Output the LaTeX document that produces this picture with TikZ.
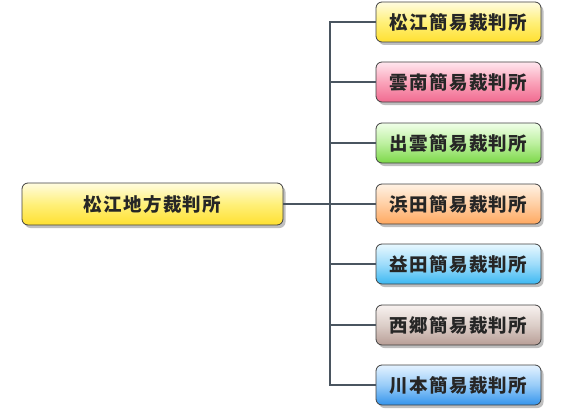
\documentclass[tikz,border=0pt]{standalone}
\usepackage{fontspec}
\newfontfamily\jp{Noto Sans CJK JP}[LetterSpace=7]
\usetikzlibrary{shadows}
\definecolor{ylwT}{HTML}{FFFCE0}\definecolor{ylwM}{HTML}{FFF07A}\definecolor{ylwB}{HTML}{FFE030}
\definecolor{pnkT}{HTML}{FFE6EE}\definecolor{pnkM}{HTML}{FAA4BA}\definecolor{pnkB}{HTML}{F06A90}
\definecolor{grnT}{HTML}{F0FFE8}\definecolor{grnM}{HTML}{BDF0A0}\definecolor{grnB}{HTML}{7CD848}
\definecolor{orgT}{HTML}{FFF2E4}\definecolor{orgM}{HTML}{FFCFA4}\definecolor{orgB}{HTML}{FFA860}
\definecolor{cynT}{HTML}{E8F8FF}\definecolor{cynM}{HTML}{9EDCFA}\definecolor{cynB}{HTML}{3CB8F2}
\definecolor{tauT}{HTML}{F8F2F0}\definecolor{tauM}{HTML}{DCCEC8}\definecolor{tauB}{HTML}{B89E96}
\definecolor{bluT}{HTML}{E4F2FF}\definecolor{bluM}{HTML}{98CCF8}\definecolor{bluB}{HTML}{3494EC}
\definecolor{linkc}{HTML}{4A5560}

\begin{document}
\begin{tikzpicture}[x=1pt, y=-1pt,
  court/.style={draw=black!75, line width=0.8pt, rounded corners=6pt, minimum width=165pt, minimum height=40pt,
    font=\jp\fontsize{18.5pt}{18.5pt}\selectfont\bfseries, text=black!85,
    drop shadow={shadow xshift=2.5pt, shadow yshift=-3pt, opacity=0.5}},
  link/.style={draw=linkc, line width=1.6pt}]
\useasboundingbox (0,0) rectangle (570,420);
\node[court, minimum width=261pt, minimum height=42pt, top color=ylwT, bottom color=ylwB, middle color=ylwM] (chiho) at (152.5,204) {松江地方裁判所};
\node[court, top color=ylwT, bottom color=ylwB, middle color=ylwM] (matsue) at (458.5,22) {松江簡易裁判所};
\node[court, top color=pnkT, bottom color=pnkB, middle color=pnkM] (unnan) at (458.5,82) {雲南簡易裁判所};
\node[court, top color=grnT, bottom color=grnB, middle color=grnM] (izumo) at (458.5,143) {出雲簡易裁判所};
\node[court, top color=orgT, bottom color=orgB, middle color=orgM] (hamada) at (458.5,204) {浜田簡易裁判所};
\node[court, top color=cynT, bottom color=cynB, middle color=cynM] (masuda) at (458.5,264) {益田簡易裁判所};
\node[court, top color=tauT, bottom color=tauB, middle color=tauM] (saigo) at (458.5,325) {西郷簡易裁判所};
\node[court, top color=bluT, bottom color=bluB, middle color=bluM] (kawamoto) at (458.5,385) {川本簡易裁判所};
\coordinate (bus) at (330,204);
\draw[link] (chiho.east) -- (bus);
\draw[link] (matsue.west) -| (bus) |- (kawamoto.west);
\draw[link] (bus |- unnan) -- (unnan.west);
\draw[link] (bus |- izumo) -- (izumo.west);
\draw[link] (bus) -- (hamada.west);
\draw[link] (bus |- masuda) -- (masuda.west);
\draw[link] (bus |- saigo) -- (saigo.west);
\end{tikzpicture}
\end{document}
